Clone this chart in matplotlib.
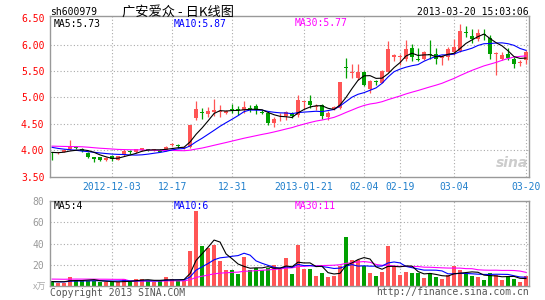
import matplotlib
matplotlib.use('Agg')
import matplotlib.pyplot as plt
import numpy as np
import pandas as pd

# daily K line data, sh600979, 2012-11-19 .. 2013-03-20 (80 trading days)
opens = [3.96, 3.94, 3.97, 4.02, 4.07, 4.03, 3.95, 3.87, 3.87, 3.82,
         3.90, 3.82, 3.91, 3.98, 3.96, 4.00, 4.01, 4.00, 4.01, 3.99,
         4.10, 4.09, 4.04, 4.06, 4.61, 4.72, 4.69, 4.72, 4.73, 4.71,
         4.79, 4.79, 4.76, 4.79, 4.84, 4.72, 4.71, 4.51, 4.62, 4.64,
         4.71, 4.67, 4.91, 4.93, 4.82, 4.86, 4.63, 4.79, 4.80, 5.56,
         5.47, 5.37, 5.49, 5.15, 5.30, 5.28, 5.49, 5.76, 5.77, 5.72,
         5.94, 5.71, 5.72, 5.81, 5.82, 5.74, 5.77, 5.85, 5.88, 6.23,
         6.17, 6.11, 6.20, 6.12, 5.82, 5.72, 5.83, 5.73, 5.65, 5.70]
highs = [3.97, 3.96, 4.02, 4.19, 4.08, 4.04, 3.96, 3.88, 3.88, 3.88,
         3.91, 3.90, 4.03, 4.00, 4.03, 4.05, 4.03, 4.03, 4.02, 4.09,
         4.14, 4.11, 4.07, 4.48, 4.93, 4.80, 4.81, 4.97, 4.85, 4.77,
         4.87, 4.84, 4.94, 4.85, 4.88, 4.76, 4.73, 4.62, 4.70, 4.74,
         4.73, 5.04, 4.93, 5.04, 4.87, 4.88, 4.75, 4.84, 5.30, 5.74,
         5.63, 5.63, 5.50, 5.32, 5.33, 5.52, 6.07, 5.83, 5.82, 6.09,
         6.01, 5.94, 5.88, 6.08, 5.94, 5.80, 5.96, 6.10, 6.38, 6.35,
         6.29, 6.30, 6.30, 6.18, 5.85, 5.85, 5.94, 5.76, 5.70, 5.90]
lows = [3.81, 3.92, 3.96, 4.01, 4.02, 3.96, 3.86, 3.78, 3.80, 3.80,
        3.80, 3.81, 3.90, 3.93, 3.94, 3.99, 3.98, 3.98, 3.96, 3.98,
        4.08, 4.05, 4.02, 4.05, 4.58, 4.60, 4.62, 4.64, 4.63, 4.69,
        4.70, 4.67, 4.70, 4.73, 4.68, 4.68, 4.48, 4.44, 4.56, 4.57,
        4.61, 4.63, 4.78, 4.80, 4.77, 4.60, 4.58, 4.76, 4.79, 5.36,
        5.36, 5.32, 5.21, 5.09, 5.24, 5.27, 5.48, 5.69, 5.62, 5.68,
        5.68, 5.68, 5.70, 5.72, 5.63, 5.62, 5.71, 5.80, 5.86, 6.14,
        6.02, 6.06, 6.09, 5.73, 5.42, 5.70, 5.70, 5.55, 5.60, 5.64]
closes = [3.94, 3.95, 4.01, 4.06, 4.04, 3.99, 3.87, 3.84, 3.82, 3.86,
          3.84, 3.89, 3.99, 3.97, 4.02, 4.04, 4.00, 4.01, 3.97, 4.07,
          4.11, 4.08, 4.06, 4.47, 4.79, 4.71, 4.75, 4.76, 4.74, 4.75,
          4.76, 4.76, 4.82, 4.78, 4.76, 4.71, 4.51, 4.60, 4.63, 4.72,
          4.64, 4.95, 4.92, 4.86, 4.84, 4.64, 4.71, 4.81, 5.29, 5.55,
          5.48, 5.49, 5.23, 5.31, 5.29, 5.50, 5.91, 5.81, 5.78, 5.92,
          5.76, 5.70, 5.86, 5.80, 5.73, 5.78, 5.91, 5.95, 6.25, 6.22,
          6.11, 6.22, 6.19, 5.83, 5.83, 5.81, 5.75, 5.64, 5.66, 5.86]
# volume, x万
volumes = [5, 3, 3, 8.8, 6, 5, 5, 5, 4, 3.5,
           3.5, 3.5, 6.3, 5, 6.6, 6.6, 5, 3.5, 5, 8.8,
           6.6, 5, 5, 33, 70.8, 37.7, 36, 38.7, 23.6, 15,
           15, 11.3, 27.4, 15, 16.6, 15, 17, 19.8, 15.7, 26.7,
           11.3, 38.7, 16, 16, 9.4, 12.6, 8.8, 9.7, 19.2, 46.5,
           24.5, 24.5, 18.9, 12.6, 9.4, 13.5, 38, 19, 10.4, 13.5,
           12.6, 12.6, 7.9, 12.6, 8.8, 6.6, 10.7, 19, 15, 12,
           9.7, 8.8, 5.7, 12.6, 10.7, 5.7, 9.7, 6.6, 3.5, 9.4]
# earlier days (not drawn), only needed so the moving averages start right
prev_close = [4.05, 4.08, 4.12, 4.10, 4.07, 4.11, 4.14, 4.10, 4.06, 4.08,
              4.12, 4.09, 4.05, 4.07, 4.10, 4.11, 4.08, 4.06, 4.10, 4.11,
              4.15, 4.15, 4.16, 4.15, 4.14, 3.98, 3.96, 3.95, 3.97]
prev_vol = [5, 6, 5, 4, 6, 5, 7, 5, 4, 6, 5, 5, 52, 8, 6,
            5, 4, 5, 6, 4, 5, 4, 3, 4, 5, 4, 3, 4, 5]

tick_idx = [10, 20, 30, 42, 52, 58, 67, 79]
tick_labels = ['2012-12-03', '12-17', '12-31', '2013-01-21',
               '02-04', '02-19', '03-04', '03-20']
price_ticks = [3.5, 4.0, 4.5, 5.0, 5.5, 6.0, 6.5]
vol_ticks = [20, 40, 60, 80]

RED = '#ff5555'
GREEN = '#00a000'
FRAME = '#999999'
GRIDC = '#aaaaaa'
MONO = 'DejaVu Sans Mono'
CJK = ['Noto Sans CJK SC', 'DejaVu Sans']

o = np.array(opens); h = np.array(highs); l = np.array(lows); c = np.array(closes)
v = np.array(volumes)
idx = np.arange(len(c))
cols = [RED if cc >= oo else GREEN for oo, cc in zip(o, c)]

n_prev = len(prev_close)
cs = pd.Series(np.concatenate([prev_close, c]))
vs = pd.Series(np.concatenate([prev_vol, v]))
ma = {n: cs.rolling(n).mean().values[n_prev:] for n in (5, 10, 30)}
vma = {n: vs.rolling(n).mean().values[n_prev:] for n in (5, 10, 30)}

W, H = 545, 300
fig = plt.figure(figsize=(W / 100, H / 100), dpi=100)
fig.patch.set_facecolor('white')

def rect(x0, y0, x1, y1):
    return [x0 / W, 1 - y1 / H, (x1 - x0) / W, (y1 - y0) / H]

ax = fig.add_axes(rect(50, 16, 529, 176.7))
axv = fig.add_axes(rect(50, 201, 529, 286))

# price panel
ax.vlines(idx, l, h, color=cols, lw=0.9)
ax.bar(idx, np.maximum(np.abs(c - o), 0.018), 0.7, bottom=np.minimum(o, c),
       color=cols, linewidth=0)
ax.plot(idx, ma[30], color='#ff00ff', lw=0.8)
ax.plot(idx, ma[10], color='#0000ff', lw=0.8)
ax.plot(idx, ma[5], color='black', lw=0.8)
ax.set_xlim(-0.35, 79.5)
ax.set_ylim(3.5, 6.54)
for yv in price_ticks[1:-1]:
    ax.axhline(yv, color=GRIDC, lw=0.8, ls=(0, (1, 2)), zorder=0)
for t in tick_idx:
    ax.axvline(t, color=GRIDC, lw=0.8, ls=(0, (1, 2)), zorder=0)
ax.set_yticks(price_ticks)
ax.set_yticklabels(['%.2f' % p for p in price_ticks])
ax.set_xticks(tick_idx)
ax.set_xticklabels(tick_labels)
ax.tick_params(axis='y', length=0, pad=4, labelcolor='red', labelsize=7)
ax.tick_params(axis='x', length=0, pad=4, labelcolor='#1f7fcc', labelsize=7)
for lab in ax.get_xticklabels() + ax.get_yticklabels():
    lab.set_family(MONO)

# volume panel
axv.bar(idx, v, 0.8, color=cols, linewidth=0)
axv.plot(idx, vma[30], color='#ff00ff', lw=0.8)
axv.plot(idx, vma[10], color='#0000ff', lw=0.8)
axv.plot(idx, vma[5], color='black', lw=0.8)
axv.set_xlim(-0.35, 79.5)
axv.set_ylim(0, 80)
for yv in vol_ticks[:-1]:
    axv.axhline(yv, color=GRIDC, lw=0.8, ls=(0, (1, 2)), zorder=0)
for t in tick_idx:
    axv.axvline(t, color=GRIDC, lw=0.8, ls=(0, (1, 2)), zorder=0)
axv.set_xticks([])
axv.set_yticks(vol_ticks)
axv.set_yticklabels([str(t) for t in vol_ticks])
axv.tick_params(axis='y', length=0, pad=4, labelcolor='#999999', labelsize=7)
for lab in axv.get_yticklabels():
    lab.set_family(MONO)

for a in (ax, axv):
    for s in a.spines.values():
        s.set_color(FRAME)
        s.set_linewidth(1)

def ftext(x, y, s, **kw):
    fig.text(x / W, 1 - y / H, s, va='center', **kw)

ftext(50, 12, 'sh600979', family=MONO, fontsize=7)
ftext(178, 12, '广安爱众 - 日K线图', family=CJK, fontsize=9.5, ha='center')
ftext(529, 12, '2013-03-20 15:03:06', family=MONO, fontsize=7, ha='right')

ftext(54, 24, 'MA5:5.73', family=MONO, fontsize=7, color='black')
ftext(174, 24, 'MA10:5.87', family=MONO, fontsize=7, color='#0000ff')
ftext(295, 23, 'MA30:5.77', family=MONO, fontsize=7, color='#ff00ff')

ftext(54, 206, 'MA5:4', family=MONO, fontsize=7, color='black')
ftext(174, 206, 'MA10:6', family=MONO, fontsize=7, color='#0000ff')
ftext(295, 206, 'MA30:11', family=MONO, fontsize=7, color='#ff00ff')

ftext(46, 287, 'x万', family=CJK, fontsize=6.5, color='#aaaaaa', ha='right')
ftext(50, 293, 'Copyright 2013 SINA.COM', family=MONO, fontsize=7, color='#555555')
ftext(529, 292, 'http://finance.sina.com.cn', family=MONO, fontsize=7,
      color='#555555', ha='right')
ftext(512, 163, 'sina', family='DejaVu Sans', fontsize=10, color='#cccccc',
      ha='center', fontweight='bold', fontstyle='italic')

fig.savefig('out.png', dpi=100)
